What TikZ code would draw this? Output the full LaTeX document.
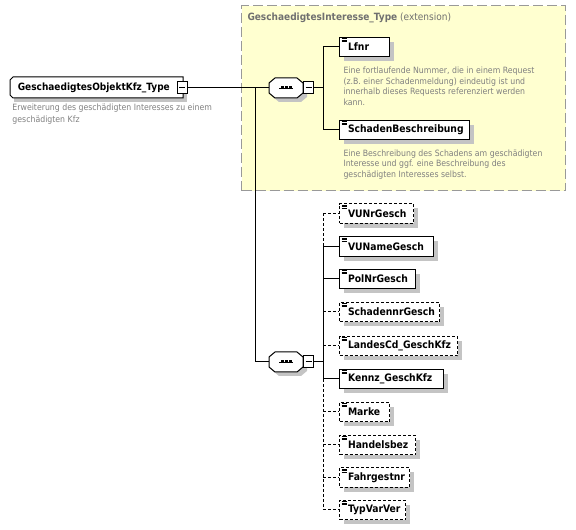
\documentclass[tikz,border=0pt]{standalone}
\usepackage{fontspec}
\setmainfont{DejaVu Sans Condensed}
\usetikzlibrary{shadows}
\definecolor{descgray}{HTML}{808080}
\definecolor{titlegray}{HTML}{707070}
\definecolor{extfill}{HTML}{FFFFD0}
\definecolor{extborder}{HTML}{999999}
\definecolor{shadowgray}{HTML}{C4C4C4}
\newcommand\xelem[5]{%
  \node[#2, text width=#4] (#1) at (339,#3) {\hspace*{6.4pt}#5};
  \draw[icon] ([shift={(2.5,1.8)}]#1.north west) -- ++(5,0);
  \draw[icon] ([shift={(2.5,3.3)}]#1.north west) -- ++(5,0);
  \draw[icon] ([shift={(2.5,4.8)}]#1.north west) -- ++(5,0);
}
\newcommand\xseq[3]{%
  \begin{scope}[shift={(#2,#3)}]
    \fill[shadowgray] (10,-6) -- (32,-6) -- (38,-1) -- (38,9) -- (32,14) -- (10,14) -- (4,9) -- (4,-1) -- cycle;
    \draw[line width=0.75pt, fill=white] (6,-10) -- (28,-10) -- (34,-5) -- (34,5) -- (28,10) -- (6,10) -- (0,5) -- (0,-5) -- cycle;
    \node[inner sep=0pt, minimum width=25.5pt, minimum height=15pt] (#1) at (17,0) {};
    \draw[line width=0.6pt] (10,0) -- (24,0);
    \fill (11.5,-1.5) rectangle ++(3,3);
    \fill (15.5,-1.5) rectangle ++(3,3);
    \fill (19.5,-1.5) rectangle ++(3,3);
    \node[minusbox] (#1m) at (39.5,0) {};
    \draw[line width=0.75pt] (36.5,0) -- (42.5,0);
  \end{scope}}
\begin{document}
\begin{tikzpicture}[x=0.75pt,y=-0.75pt,
  line width=0.75pt,
  namefont/.style={font=\bfseries\fontsize{7.5}{9}\selectfont},
  box/.style={draw, fill=white, line width=0.75pt, anchor=west, minimum height=14.5pt,
    inner xsep=0pt, inner ysep=0pt, align=left, font=\bfseries\fontsize{7.7}{9}\selectfont,
    general shadow={fill=shadowgray, shadow xshift=3.5pt, shadow yshift=-3.5pt}},
  optbox/.style={box, dash pattern=on 2.25pt off 1.5pt},
  icon/.style={line width=0.5pt},
  minusbox/.style={draw, fill=white, line width=0.75pt, inner sep=0pt, minimum width=7.5pt, minimum height=9pt},
  desc/.style={anchor=north west, inner sep=0pt, align=left, text=descgray, font=\fontsize{6.5}{7.9}\selectfont},
  optline/.style={dash pattern=on 2.25pt off 1.5pt},
  extbox/.style={draw=extborder, fill=extfill, line width=1.1pt, dash pattern=on 7.5pt off 3pt,
    anchor=north west, inner sep=0pt}
]
\useasboundingbox (0,0) rectangle (576,530);

% extension box
\node[extbox, minimum width=243pt, minimum height=138.75pt] (ext) at (241,5) {};
\node[anchor=west, inner sep=0pt, text=titlegray, font=\fontsize{7.5}{9}\selectfont] (exttitle) at (247,18)
  {\textbf{GeschaedigtesInteresse\_Type} (extension)};

% root element
\fill[shadowgray] (14,81) -- (187,81) -- (187,102) -- (14,102) -- cycle;
\draw[line width=0.75pt, fill=white] (13,77) -- (183,77) -- (183,98) -- (13,98) -- (10,95) -- (10,80) -- cycle;
\node[anchor=west, inner sep=0pt, minimum height=15.75pt, text width=129.75pt, align=left, namefont] (root) at (10,87.5)
  {\hspace*{5.5pt}GeschaedigtesObjektKfz\_Type};
\node[minusbox] (rootm) at (182,88) {};
\draw[line width=0.75pt] (179,88) -- (185,88);
\node[desc, font=\fontsize{6.5}{9}\selectfont] (rootdesc) at (12,103) {Erweiterung des geschädigten Interesses zu einem\\geschädigten Kfz};

% sequences
\xseq{seqa}{269}{88}
\xseq{seqb}{269}{362}

% first sequence children
\xelem{lfnr}{box}{47}{37.5pt}{Lfnr}
\node[desc] (lfnrdesc) at (343,66.5) {Eine fortlaufende Nummer, die in einem Request\\(z.B. einer Schadenmeldung) eindeutig ist und\\innerhalb dieses Requests referenziert werden\\kann.};
\xelem{schaden}{box}{130}{97.5pt}{SchadenBeschreibung}
\node[desc] (schadendesc) at (343,149) {Eine Beschreibung des Schadens am geschädigten\\Interesse und ggf. eine Beschreibung des\\geschädigten Interesses selbst.};

% second sequence children
\xelem{vunr}{optbox}{213.5}{55.5pt}{VUNrGesch}
\xelem{vuname}{box}{246.5}{70.5pt}{VUNameGesch}
\xelem{polnr}{box}{279}{57pt}{PolNrGesch}
\xelem{schadennr}{optbox}{312}{75pt}{SchadennrGesch}
\xelem{landes}{optbox}{346}{88.5pt}{LandesCd\_GeschKfz}
\xelem{kennz}{box}{379}{78pt}{Kennz\_GeschKfz}
\xelem{marke}{optbox}{412}{37.5pt}{Marke}
\xelem{handel}{optbox}{445}{57pt}{Handelsbez}
\xelem{fahrg}{optbox}{477.5}{52.5pt}{Fahrgestnr}
\xelem{typvar}{optbox}{510}{49.5pt}{TypVarVer}

% connectors
\coordinate (trunk) at (255,88);
\coordinate (va) at (323,88);
\coordinate (vb) at (323,362);
\draw (rootm.east) -- (seqa.west);
\draw (trunk) |- (seqb.west);
\draw (seqam.east) -- (va);
\draw (va) |- (lfnr.west);
\draw (va) |- (schaden.west);
\draw (seqbm.east) -- (vb);
\draw[optline] (vb |- vunr.west) -- (vb |- vuname.west);
\draw (vb |- vuname.west) -- (vb |- kennz.west);
\draw[optline] (vb |- kennz.west) -- (vb |- typvar.west);
\draw[optline] (vb |- vunr.west) -- (vunr.west);
\draw (vb |- vuname.west) -- (vuname.west);
\draw (vb |- polnr.west) -- (polnr.west);
\draw[optline] (vb |- schadennr.west) -- (schadennr.west);
\draw[optline] (vb |- landes.west) -- (landes.west);
\draw (vb |- kennz.west) -- (kennz.west);
\draw[optline] (vb |- marke.west) -- (marke.west);
\draw[optline] (vb |- handel.west) -- (handel.west);
\draw[optline] (vb |- fahrg.west) -- (fahrg.west);
\draw[optline] (vb |- typvar.west) -- (typvar.west);
\end{tikzpicture}
\end{document}
